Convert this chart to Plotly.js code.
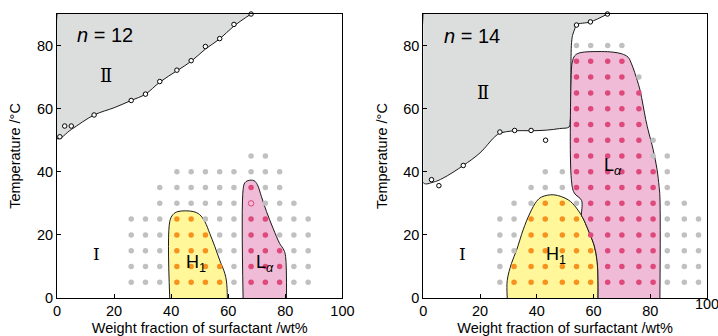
<!DOCTYPE html>
<html><head><meta charset="utf-8">
<script src="https://cdn.plot.ly/plotly-3.0.1.min.js"></script>
<style>html,body{margin:0;padding:0;background:#fff;overflow:hidden}#chart{width:718px;height:336px}</style>
</head><body><div id="chart"></div>
<script>
// ---------------- axes ----------------
const xTicks = [0,20,40,60,80,100];
const yTicks = [0,20,40,60,80];

// ---------------- n = 12 ----------------
const n12Cols = [26,31,36,42,47,52,57,62,68,73,78,83,88];
const n12Rows = [5,10,15,20,25,30,35,40,45];
// one string per row, one char per column: '.' none, I isotropic, H hexagonal H1, L lamellar, o open Lα
const n12Phase = [
  "IIIHHHHILLLII",
  "IIIHHHHILLLII",
  "IIIHHHIILLLII",
  "IIIHHHIILLIII",
  "IIIHHIIILLIII",
  "..IIIIIIoIII.",
  "..IIIIIILII..",
  "...IIIIIIII..",
  "........II..."
];
const n12CloudX = [1,2.7,5,13,26,31,36,42,47,52,57,62,68];
const n12CloudY = [51.1,54.5,54.5,58,62.6,64.6,68.6,72.2,75.2,79.7,82.2,86.7,90];
const n12IIx = [68,62,57,52,47,42,36,31,26,20,13,5,0,0];
const n12IIy = [90,86.2,82.1,78.9,75,72,68.4,64.6,62.6,60.3,58,53.4,50.5,90];
const n12H1x = [39.5,39.5,40.6,42.4,47.7,50.0,51.8,53.5,55.3,57.0,58.8,59.4,59.7];
const n12H1y = [0,24.2,26.4,27.4,27.4,26.4,24.2,20.5,16.3,12.0,7.8,5.1,0];
const n12Lax = [65.2,65.2,65.8,66.9,69.0,70.2,71.6,73.4,75.7,78.0,79.5,80.1,80.4];
const n12Lay = [0,34.3,36.5,37.2,37.2,35.9,32.2,27.4,22.1,17.3,15.2,13.1,0];

// ---------------- n = 14 ----------------
const n14Cols = [27,32,38,43,49,54,59,65,70,76,81,86,92,97];
const n14Rows = [5,10,15,20,25,30,35,40,45,50,55,60,65,70,75,80];
const n14Phase = [
  "IHHHHHHLLLLIII",
  "IHHHHHHLLLLIII",
  "IIHHHHHLLLLIII",
  "IIHHHHLLLLLIII",
  "IIHHHHLLLLLIII",
  ".IIHHILLLLLII.",
  "..IIILLLLLLI..",
  "...IILLLLLLI..",
  ".....LLLLLII..",
  ".....LLLLLI...",
  ".....LLLLL....",
  ".....LLLLL....",
  ".....LLLLL....",
  ".....LLLLI....",
  ".....LLLL.....",
  ".....IIII....."
];
const n14CloudX = [2.9,5.5,14.1,27,32.2,38,43.1,54,58.9,64.9];
const n14CloudY = [37.5,35.6,42,52.6,53.1,53.1,50,86.5,87.5,90];
const n14IIx = [64.9,58.9,54.0,53.4,52.6,52.2,51.8,51.4,48.1,43.5,38,32.2,27,25.2,20,14.1,7,3.5,0,0];
const n14IIy = [90,87.5,86.6,85.3,83.2,80,56,54.2,53.7,53.2,53,53,52.2,51.1,46,42,38,36.7,36.5,90];
const n14H1x = [29.6,29.6,31.1,32.9,35.2,37.6,39.9,41.7,46.0,51.1,54.0,56.3,58.1,60.2,61.3,61.6,61.6];
const n14H1y = [0,5.6,11.0,15.2,21.6,26.9,30.6,32.0,32.7,31.1,28.5,25.3,21.6,16.8,11.5,5.6,0];
const n14Lax = [83.4,83.4,83.1,82.4,81.0,79.2,78.4,77.5,76.3,74.5,73.4,72.2,69.9,66.9,62.8,55.2,53.4,52.5,52.2,52.2,53.2,55.8,55.8,56.3,58.1,60.2,61.3,61.6,61.6];
const n14Lay = [0,32,35.4,40.7,47.1,53.4,56.6,60.9,66.2,71.5,74.2,76.3,77.4,77.9,78.1,77.7,76.8,74.7,72,37.5,33.3,30.9,26,25.3,21.6,16.8,11.5,5.6,0];

// ---------------- styles ----------------
const C = {
  grayFill:'rgb(220,221,221)', yellow:'rgb(255,247,153)', pink:'rgb(239,187,214)',
  dotI:'rgb(192,192,192)', dotH:'rgb(248,146,30)', dotL:'rgb(222,72,123)', edge:'#1a1a1a'
};
const FONT = 'Liberation Sans, Arial, sans-serif';
const tickFont = {family:FONT, size:14.5, color:'#000'};

function region(x, y, fill, xa, ya){
  return {x:x, y:y, xaxis:xa, yaxis:ya, type:'scatter', mode:'lines', fill:'toself', fillcolor:fill,
    line:{color:C.edge, width:1, shape:'spline', smoothing:1}, hoverinfo:'skip', showlegend:false};
}
function dots(cols, rows, phase, xa, ya){
  const groups = {I:{x:[],y:[]}, H:{x:[],y:[]}, L:{x:[],y:[]}, o:{x:[],y:[]}};
  rows.forEach((r, i) => {
    for (let j = 0; j < cols.length; j++) {
      const ch = phase[i][j];
      if (groups[ch]) { groups[ch].x.push(cols[j]); groups[ch].y.push(r); }
    }
  });
  const mk = (g, color, sym) => ({x:g.x, y:g.y, xaxis:xa, yaxis:ya, type:'scatter', mode:'markers',
    marker:{size:5.5, color:color, symbol:sym, line:{width:sym==='circle-open'?1:0, color:color}},
    hoverinfo:'skip', showlegend:false});
  return [mk(groups.I, C.dotI, 'circle'), mk(groups.H, C.dotH, 'circle'), mk(groups.L, C.dotL, 'circle'), mk(groups.o, C.dotL, 'circle-open')];
}
function cloud(x, y, xa, ya){
  return {x:x, y:y, xaxis:xa, yaxis:ya, type:'scatter', mode:'markers', cliponaxis:false,
    marker:{size:4.5, color:'#fff', symbol:'circle', line:{width:1, color:'#000'}}, hoverinfo:'skip', showlegend:false};
}
const lastX = xTicks[xTicks.length - 1];

const data = [
  region(n12IIx, n12IIy, C.grayFill, 'x', 'y'),
  region(n12H1x, n12H1y, C.yellow, 'x', 'y'),
  region(n12Lax, n12Lay, C.pink, 'x', 'y'),
  ...dots(n12Cols, n12Rows, n12Phase, 'x', 'y'),
  cloud(n12CloudX, n12CloudY, 'x', 'y'),
  region(n14IIx, n14IIy, C.grayFill, 'x2', 'y2'),
  region(n14H1x, n14H1y, C.yellow, 'x2', 'y2'),
  region(n14Lax, n14Lay, C.pink, 'x2', 'y2'),
  ...dots(n14Cols, n14Rows, n14Phase, 'x2', 'y2'),
  cloud(n14CloudX, n14CloudY, 'x2', 'y2'),
  // last tick label of the right x axis, drawn as a text mark at the axis end
  {x:[lastX], y:[yTicks[0]], xaxis:'x2', yaxis:'y2', type:'scatter', mode:'text', text:[String(lastX)],
   textposition:'bottom center', textfont:tickFont, cliponaxis:false, hoverinfo:'skip', showlegend:false}
];

const ax = (extra) => Object.assign({
  tickmode:'array', ticks:'inside', ticklen:4, tickwidth:1, tickcolor:'#000',
  showline:true, linecolor:'#000', linewidth:1, mirror:true, showgrid:false, zeroline:false,
  tickfont:tickFont, fixedrange:true
}, extra);
const xTitle = {text:'Weight fraction of surfactant /wt%', font:{family:FONT, size:14.5, color:'#000'}, standoff:6};
const yTitle = {text:'Temperature /°C', font:{family:FONT, size:14.5, color:'#000'}, standoff:12};

const serif = 'DejaVu Serif, Liberation Serif, serif';
function label(text, x, y, xr, yr, size, family){
  return {text:text, x:x, y:y, xref:xr, yref:yr, showarrow:false, xanchor:'center', yanchor:'middle',
    font:{family:family||FONT, size:size, color:'#000'}};
}
const annotations = [
  label('<i>n</i> = 12', 16.8, 83.2, 'x', 'y', 20),
  label('Ⅱ', 17, 70.6, 'x', 'y', 18, serif),
  label('Ⅰ', 13.9, 13.9, 'x', 'y', 17, serif),
  label('H<sub>1</sub>', 48.8, 11, 'x', 'y', 18),
  label('L<sub><i>α</i></sub>', 73, 11, 'x', 'y', 18),
  label('<i>n</i> = 14', 17.3, 83, 'x2', 'y2', 20),
  label('Ⅱ', 21, 65.2, 'x2', 'y2', 18, serif),
  label('Ⅰ', 14, 13.9, 'x2', 'y2', 17, serif),
  label('H<sub>1</sub>', 46.8, 13.4, 'x2', 'y2', 18),
  label('L<sub><i>α</i></sub>', 66.8, 41.7, 'x2', 'y2', 18)
];

const layout = {
  width:718, height:336, margin:{l:57, r:11, t:14, b:38},
  paper_bgcolor:'#fff', plot_bgcolor:'#fff', showlegend:false,
  xaxis: ax({domain:[0, 0.4391], range:[0,100], anchor:'y', title:xTitle, tickvals:xTicks}),
  yaxis: ax({domain:[0,1], range:[0,90], anchor:'x', title:yTitle, tickvals:yTicks}),
  xaxis2: ax({domain:[0.5635, 1], range:[0,100], anchor:'y2', title:xTitle, tickvals:xTicks,
              ticktext:xTicks.map(v => v === lastX ? '' : String(v))}),
  yaxis2: ax({domain:[0,1], range:[0,90], anchor:'x2', title:yTitle, tickvals:yTicks}),
  annotations:annotations
};
Plotly.newPlot('chart', data, layout, {staticPlot:true, displayModeBar:false});
</script>
</body></html>
